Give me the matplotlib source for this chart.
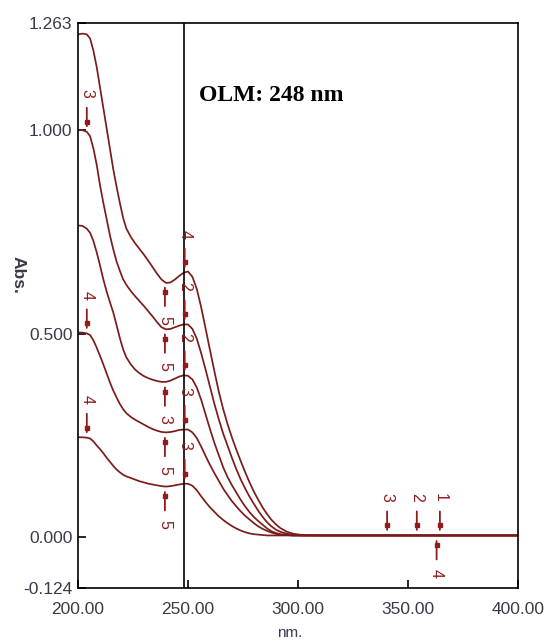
import matplotlib
matplotlib.use('Agg')
import matplotlib.pyplot as plt
import numpy as np
from matplotlib.transforms import offset_copy

# wavelength grid (nm) and absorbance of the five spectra
wl = [200, 202, 204, 205.5, 207, 208.5, 210, 211.5, 213, 214.5, 216, 217.5, 219, 220.5,
      222, 224, 226, 228, 230, 232, 234, 236, 238, 240, 242, 244, 246, 248, 250, 252,
      254, 256, 258, 260, 262, 264, 266, 268, 270, 272, 274, 276, 278, 280, 282, 284,
      286, 288, 290, 292, 295, 298, 302, 310, 330, 350, 370, 400]

abs1 = [1.235, 1.237, 1.235, 1.225, 1.195, 1.155, 1.105, 1.055, 1.005, 0.955, 0.905,
        0.862, 0.822, 0.785, 0.758, 0.738, 0.722, 0.708, 0.694, 0.679, 0.663, 0.647,
        0.633, 0.625, 0.626, 0.633, 0.642, 0.650, 0.653, 0.640, 0.610, 0.565, 0.513,
        0.460, 0.408, 0.358, 0.315, 0.278, 0.245, 0.215, 0.187, 0.160, 0.135, 0.112,
        0.092, 0.073, 0.057, 0.043, 0.032, 0.023, 0.014, 0.009, 0.006, 0.005, 0.005,
        0.005, 0.005, 0.005]
abs2 = [1.000, 1.000, 0.996, 0.985, 0.955, 0.915, 0.865, 0.822, 0.782, 0.742, 0.708,
        0.678, 0.655, 0.634, 0.620, 0.605, 0.592, 0.580, 0.568, 0.555, 0.542, 0.528,
        0.516, 0.511, 0.512, 0.516, 0.520, 0.523, 0.523, 0.512, 0.488, 0.452, 0.412,
        0.370, 0.328, 0.290, 0.255, 0.225, 0.195, 0.167, 0.142, 0.120, 0.100, 0.082,
        0.065, 0.050, 0.037, 0.027, 0.019, 0.014, 0.009, 0.007, 0.005, 0.005, 0.005,
        0.005, 0.005, 0.005]
abs3 = [0.766, 0.765, 0.758, 0.748, 0.728, 0.700, 0.668, 0.634, 0.604, 0.578, 0.553,
        0.522, 0.490, 0.462, 0.442, 0.425, 0.412, 0.403, 0.396, 0.391, 0.387, 0.384,
        0.382, 0.382, 0.385, 0.390, 0.395, 0.398, 0.397, 0.388, 0.368, 0.338, 0.302,
        0.266, 0.232, 0.202, 0.172, 0.148, 0.128, 0.110, 0.092, 0.076, 0.062, 0.050,
        0.040, 0.031, 0.022, 0.015, 0.011, 0.008, 0.006, 0.005, 0.005, 0.005, 0.005,
        0.005, 0.005, 0.005]
abs4 = [0.503, 0.503, 0.501, 0.497, 0.484, 0.466, 0.446, 0.425, 0.403, 0.381, 0.361,
        0.344, 0.328, 0.315, 0.305, 0.296, 0.289, 0.283, 0.277, 0.271, 0.266, 0.262,
        0.259, 0.258, 0.259, 0.261, 0.264, 0.265, 0.265, 0.258, 0.244, 0.223, 0.200,
        0.178, 0.158, 0.139, 0.120, 0.104, 0.089, 0.076, 0.064, 0.053, 0.044, 0.035,
        0.027, 0.021, 0.016, 0.012, 0.009, 0.007, 0.006, 0.005, 0.005, 0.005, 0.005,
        0.005, 0.005, 0.005]
abs5 = [0.246, 0.246, 0.245, 0.243, 0.236, 0.226, 0.217, 0.207, 0.196, 0.186, 0.176,
        0.167, 0.160, 0.154, 0.150, 0.146, 0.142, 0.138, 0.135, 0.132, 0.130, 0.128,
        0.126, 0.125, 0.126, 0.128, 0.130, 0.132, 0.132, 0.127, 0.116, 0.101, 0.087,
        0.074, 0.063, 0.052, 0.043, 0.035, 0.028, 0.022, 0.017, 0.013, 0.010, 0.008,
        0.007, 0.006, 0.005, 0.005, 0.005, 0.005, 0.005, 0.005, 0.005, 0.005, 0.005,
        0.005, 0.005, 0.005]
spectra = [abs1, abs2, abs3, abs4, abs5]

# peak picks: (curve index, wavelength, label), arrow above the curve
peak_picks = [(1, 204, '3'), (3, 204, '4'), (4, 204, '4'),
              (0, 248.5, '4'), (1, 248.5, '2'), (2, 248.5, '2'), (3, 248.5, '3'), (4, 248.5, '3'),
              (0, 340.5, '3'), (0, 354, '2'), (0, 364.5, '1')]
# valley picks: arrow below the curve
valley_picks = [(0, 239.5, '5'), (1, 239.5, '5'), (2, 239.5, '3'), (3, 239.5, '5'), (4, 239.5, '5'),
                (0, 363, '4')]

xticks = [200, 250, 300, 350, 400]
yticks = [-0.124, 0.0, 0.5, 1.0, 1.263]

curve_col = '#7a1c1c'
pick_col = '#8e1c1c'
text_col = '#3a3a48'

fig = plt.figure(figsize=(5.45, 6.41), dpi=100)
ax = fig.add_axes([78/545, 1-588/641, 440/545, 565/641])

for s in spectra:
    ax.plot(wl, s, color=curve_col, lw=1.25, solid_joinstyle='round')

ax.axvline(248, color='black', lw=1.2)


def pick(ci, x, label, s):
    y = np.interp(x, wl, spectra[ci])
    ax.annotate('', xy=(x, y), xytext=(0, s*24), textcoords='offset pixels',
                arrowprops=dict(arrowstyle='-', color=pick_col, lw=1.3, shrinkA=0, shrinkB=4))
    tr = offset_copy(ax.transData, fig=fig, x=0, y=s*10, units='dots')
    ax.plot(x, y, marker='s', ms=3, color=pick_col, transform=tr)
    ax.annotate(label, (x, y), xytext=(0, s*38), textcoords='offset pixels',
                rotation=270, ha='center', va='center', color=pick_col, fontsize=11.5,
                family='Liberation Sans')


for ci, x, lab in peak_picks:
    pick(ci, x, lab, 1)
for ci, x, lab in valley_picks:
    pick(ci, x, lab, -1)

ax.set_xlim(200, 400)
ax.set_ylim(-0.124, 1.263)
ax.set_xticks(xticks)
ax.set_xticklabels(['%.2f' % v for v in xticks])
ax.set_yticks(yticks)
ax.set_yticklabels(['%.3f' % v for v in yticks])
ax.tick_params(direction='in', length=6, width=1.2, labelsize=12.5, colors='black',
               labelcolor=text_col)
ax.tick_params(axis='x', pad=10)
ax.tick_params(axis='y', pad=4)
for lab in ax.get_xticklabels() + ax.get_yticklabels():
    lab.set_family('Liberation Sans')
for sp in ax.spines.values():
    sp.set_linewidth(1.2)

ax.text(288, 1.085, 'OLM: 248 nm', ha='center', va='center', fontsize=17,
        fontweight='bold', family='Liberation Serif')

fig.text(18/545, 1-275/641, 'Abs.', rotation=270, ha='center', va='center',
         fontsize=12.5, fontweight='bold', color=text_col, family='Liberation Sans')
fig.text(290/545, 1-640/641, 'nm.', ha='center', va='bottom', fontsize=11,
         color=text_col, family='Liberation Sans')

fig.savefig('out.png', dpi=100)
